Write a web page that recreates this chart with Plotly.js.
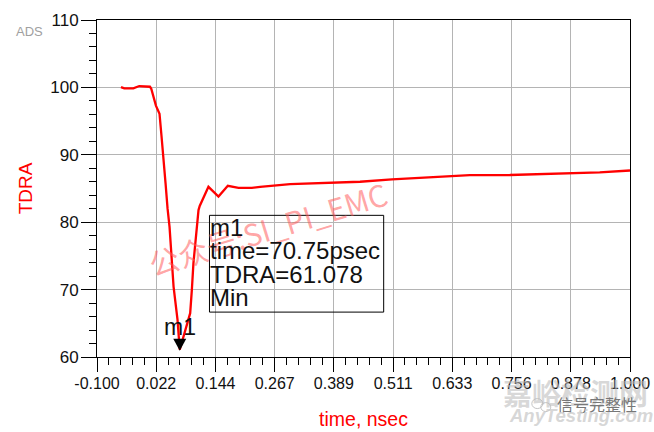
<!DOCTYPE html>
<html>
<head>
<meta charset="utf-8">
<script src="https://cdn.plot.ly/plotly-3.0.1.min.js"></script>
<style>html,body{margin:0;padding:0;background:#fff}#chart{width:654px;height:432px}</style>
</head>
<body>
<div id="chart"></div>
<script>
const timeNs = [-0.0505,-0.0437,-0.025,-0.0128,0.0093,0.012,0.0216,0.029,0.033,0.0367,0.0415,0.0456,0.0497,0.058,0.0662,0.07075,0.0923,0.0958,0.099,0.1095,0.112,0.13,0.1507,0.17,0.192,0.2195,0.2366,0.2985,0.4428,0.5087,0.6262,0.6324,0.6695,0.752,0.8262,0.9375,1.0];
const tdra = [100.05,99.86,99.86,100.2,100.1,99.8,97.3,96.1,92.9,89.2,85.75,82.05,79.3,70.45,65.5,61.078,66.5,70,73.9,81.8,82.4,85.25,83.8,85.4,85.1,85.1,85.25,85.65,86,86.35,86.73,86.83,86.98,87,87.18,87.38,87.67];
const xTickVals = [-0.1,0.0222,0.1444,0.2667,0.3889,0.5111,0.6333,0.7556,0.8778,1.0];
const xTickText = ["-0.100","0.022","0.144","0.267","0.389","0.511","0.633","0.756","0.878","1.000"];
const yTickVals = [60,70,80,90,100,110];
const markerTime = 0.07075;
const markerValue = 61.078;
const readoutLines = ["m1","time=70.75psec","TDRA=61.078","Min"];

const px = v => (v-96.7)/533.6;
const py = v => (357.3-v)/337.8;
const txt = (text, xpx, ypx, size, color, extra) => Object.assign({
  text, xref:'paper', yref:'paper',
  x:px(xpx), y:py(ypx),
  showarrow:false, xanchor:'left', yanchor:'middle',
  font:{family:'"Liberation Sans",Arial,sans-serif', size, color}
}, extra||{});

const annotations = [
  txt('公众号:SI_PI_EMC', 268, 228, 30, 'rgba(255,90,90,0.55)',
      {xanchor:'center', textangle:-17, font:{family:'"Noto Sans CJK SC","Liberation Sans",sans-serif', size:30, color:'rgba(255,90,90,0.55)'}}),
  txt('ADS', 13.5, 31, 13, '#a0a0a0'),
  txt('m1', 161.5, 327, 23, '#111'),
  txt('嘉峪检测网', 576, 392, 29, 'rgba(190,190,190,0.6)',
      {xanchor:'center', font:{family:'"Noto Sans CJK SC",sans-serif', size:29, color:'rgba(190,190,190,0.6)', weight:700}}),
  txt('信号完整性', 555, 404, 16, '#777', {font:{family:'"Noto Sans CJK SC",sans-serif', size:16, color:'#777'}}),
  txt('<b><i>AnyTesting.com</i></b>', 507, 416, 18.5, 'rgba(205,205,205,0.8)')
];
readoutLines.forEach((line,i)=>annotations.push(txt(line, 208, 227+i*23.6, 24, '#111')));

const trace = {
  x: timeNs, y: tdra, mode:'lines', type:'scatter',
  line:{color:'#ff0000', width:2.3, shape:'linear'}, hoverinfo:'skip'
};

const layout = {
  width:654, height:432, autosize:false,
  paper_bgcolor:'#fff', plot_bgcolor:'#fff', showlegend:false,
  margin:{l:96.7, r:23.7, t:19.5, b:74.7, pad:0},
  font:{family:'"Liberation Sans",Arial,sans-serif', color:'#111'},
  xaxis:{
    range:[-0.1,1.0], tickmode:'array', tickvals:xTickVals, ticktext:xTickText,
    ticks:'outside', ticklen:14, tickwidth:1, tickcolor:'#000',
    tickfont:{size:16, color:'#111'}, ticklabelstandoff:-2,
    showgrid:true, gridcolor:'#b4b4b4', gridwidth:1, zeroline:false,
    showline:true, linecolor:'#000', linewidth:1, mirror:true,
    minor:{tick0:-0.1, dtick:1.1/45, ticks:'outside', ticklen:7, tickwidth:1, tickcolor:'#000', showgrid:false},
    title:{text:'time, nsec', standoff:21, font:{size:19.5, color:'#ff0000'}}
  },
  yaxis:{
    range:[60,110], tickmode:'array', tickvals:yTickVals,
    ticks:'outside', ticklen:15, tickwidth:1, tickcolor:'#000',
    tickfont:{size:17, color:'#111'}, ticklabelstandoff:-1,
    showgrid:true, gridcolor:'#b4b4b4', gridwidth:1, zeroline:false,
    showline:true, linecolor:'#000', linewidth:1, mirror:true,
    minor:{tick0:60, dtick:2, ticks:'outside', ticklen:7, tickwidth:1, tickcolor:'#000', showgrid:false},
    title:{text:'TDRA', standoff:12, font:{size:19, color:'#ff0000'}}
  },
  shapes:[
    {type:'rect', xref:'paper', yref:'paper',
     x0:px(209.3), x1:px(383.7), y0:py(312.3), y1:py(215.3),
     line:{color:'#000', width:1}, fillcolor:'rgba(0,0,0,0)', layer:'above'},
    {type:'path', xref:'x', yref:'y', xsizemode:'pixel', ysizemode:'pixel',
     xanchor:markerTime, yanchor:markerValue,
     path:'M -6.5,11 L 6.5,11 L 0,-1 Z', fillcolor:'#000', line:{color:'#000', width:0}, layer:'above'},
    {type:'circle', xref:'paper', yref:'paper', x0:px(532), x1:px(543), y0:py(409), y1:py(399),
     line:{color:'#c4c4c4', width:1}, fillcolor:'rgba(0,0,0,0)', layer:'above'},
    {type:'circle', xref:'paper', yref:'paper', x0:px(541), x1:px(551), y0:py(412), y1:py(403),
     line:{color:'#c4c4c4', width:1}, fillcolor:'rgba(0,0,0,0)', layer:'above'}
  ],
  annotations
};
Plotly.newPlot('chart',[trace],layout,{staticPlot:true,displayModeBar:false});
</script>
</body>
</html>
